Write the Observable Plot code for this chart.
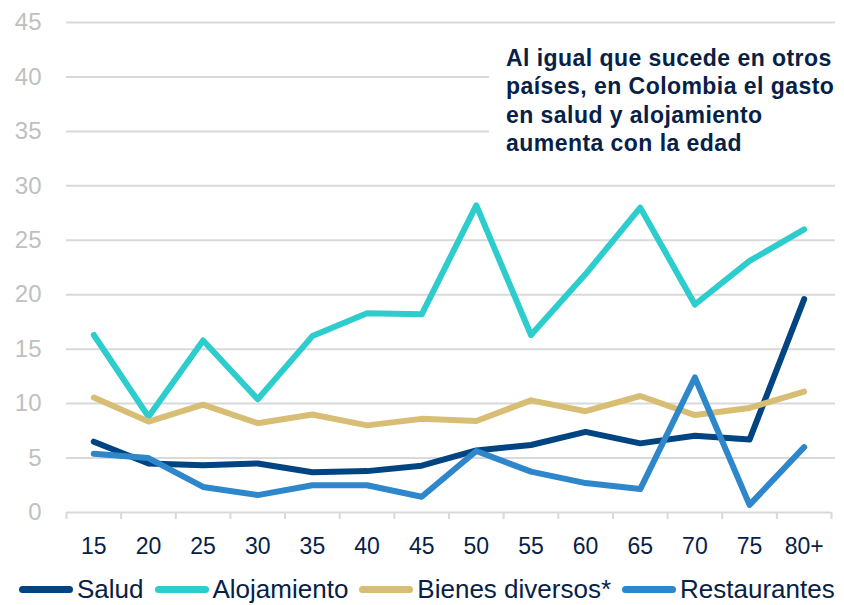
<!DOCTYPE html>
<html>
<head>
<meta charset="utf-8">
<script src="https://cdn.jsdelivr.net/npm/d3@7"></script>
<script src="https://cdn.jsdelivr.net/npm/@observablehq/plot@0.6"></script>
<style>
  html, body { margin: 0; padding: 0; background: #fff; }
  #wrap { position: relative; width: 844px; height: 605px; font-family: "Liberation Sans", Arial, sans-serif; }
  #note { position: absolute; left: 489px; top: 33px; width: 355px; height: 140px; background: #fff;
          box-sizing: border-box; padding: 11px 0 0 17px; color: #072146; font-weight: bold;
          font-size: 23px; line-height: 28.3px; letter-spacing: 0.45px; white-space: nowrap; }
  #legend { position: absolute; left: 19px; top: 574px; display: flex; align-items: center; gap: 11px;
            font-size: 26px; color: #072146; white-space: nowrap; }
  .item { display: flex; align-items: center; gap: 4px; }
  .sw { width: 54px; height: 7px; border-radius: 4px; }
</style>
</head>
<body>
<div id="wrap"></div>
<script>
const ages = ["15","20","25","30","35","40","45","50","55","60","65","70","75","80+"];
const seriesNames = ["Salud", "Alojamiento", "Bienes diversos*", "Restaurantes"];
const seriesColors = ["#004481", "#2dcccd", "#d8be75", "#2e86cb"];
const salud        = [6.5, 4.5, 4.35, 4.5, 3.7, 3.8, 4.3, 5.7, 6.2, 7.4, 6.35, 7.05, 6.7, 19.6];
const alojamiento  = [16.3, 8.8, 15.8, 10.4, 16.2, 18.3, 18.2, 28.2, 16.3, 21.9, 28.0, 19.1, 23.1, 26.0];
const bienes       = [10.55, 8.35, 9.9, 8.2, 9.0, 8.0, 8.6, 8.4, 10.3, 9.3, 10.7, 8.95, 9.6, 11.1];
const restaurantes = [5.4, 5.0, 2.35, 1.6, 2.5, 2.5, 1.45, 5.65, 3.75, 2.7, 2.15, 12.4, 0.7, 6.0];
const yTicks = [0, 5, 10, 15, 20, 25, 30, 35, 40, 45];
const noteLines = ["Al igual que sucede en otros", "países, en Colombia el gasto", "en salud y alojamiento", "aumenta con la edad"];

const allSeries = [salud, alojamiento, bienes, restaurantes];
const data = allSeries.flatMap((vals, i) => vals.map((v, j) => ({age: ages[j], value: v, series: seriesNames[i]})));

const W = 844, H = 565, mL = 66, mR = 13;
const step = (W - mL - mR) / ages.length;
const navy = "#072146";

const chart = Plot.plot({
  width: W, height: H,
  marginTop: 22, marginBottom: 53, marginLeft: mL, marginRight: mR,
  style: {fontFamily: "'Liberation Sans', Arial, sans-serif", background: "transparent"},
  x: {type: "point", domain: ages, padding: 0.5, round: false, label: null},
  y: {domain: [0, 45], label: null},
  color: {domain: seriesNames, range: seriesColors},
  marks: [
    Plot.ruleY(yTicks.filter(d => d > 0), {stroke: "#d9d9d9", strokeWidth: 2, insetRight: -4}),
    Plot.ruleY([0], {stroke: "#d9d9d9", strokeWidth: 2}),
    Plot.axisX({ticks: ages, tickSize: 7, tickFormat: () => "", label: null, dx: -step / 2, stroke: "#d9d9d9", strokeWidth: 2, strokeOpacity: 1}),
    Plot.axisX({ticks: ["80+"], tickSize: 7, tickFormat: () => "", label: null, dx: step / 2, stroke: "#d9d9d9", strokeWidth: 2, strokeOpacity: 1}),
    Plot.axisX({ticks: ages, tickSize: 0, tickPadding: 25, fontSize: 23, fill: navy, label: null}),
    Plot.axisY({ticks: yTicks, tickSize: 0, tickPadding: 25, fontSize: 24, fill: "#c0c0c0", label: null}),
    Plot.line(data, {x: "age", y: "value", z: "series", stroke: "series", strokeWidth: 6,
                     strokeLinecap: "round", strokeLinejoin: "round"})
  ]
});

const wrap = document.getElementById("wrap");
wrap.appendChild(chart);

const note = document.createElement("div");
note.id = "note";
note.innerHTML = noteLines.join("<br>");
wrap.appendChild(note);

const legend = document.createElement("div");
legend.id = "legend";
seriesNames.forEach((name, i) => {
  const item = document.createElement("div");
  item.className = "item";
  const sw = document.createElement("span");
  sw.className = "sw";
  sw.style.background = seriesColors[i];
  const t = document.createElement("span");
  t.textContent = name;
  item.appendChild(sw); item.appendChild(t);
  legend.appendChild(item);
});
wrap.appendChild(legend);
</script>
</body>
</html>
